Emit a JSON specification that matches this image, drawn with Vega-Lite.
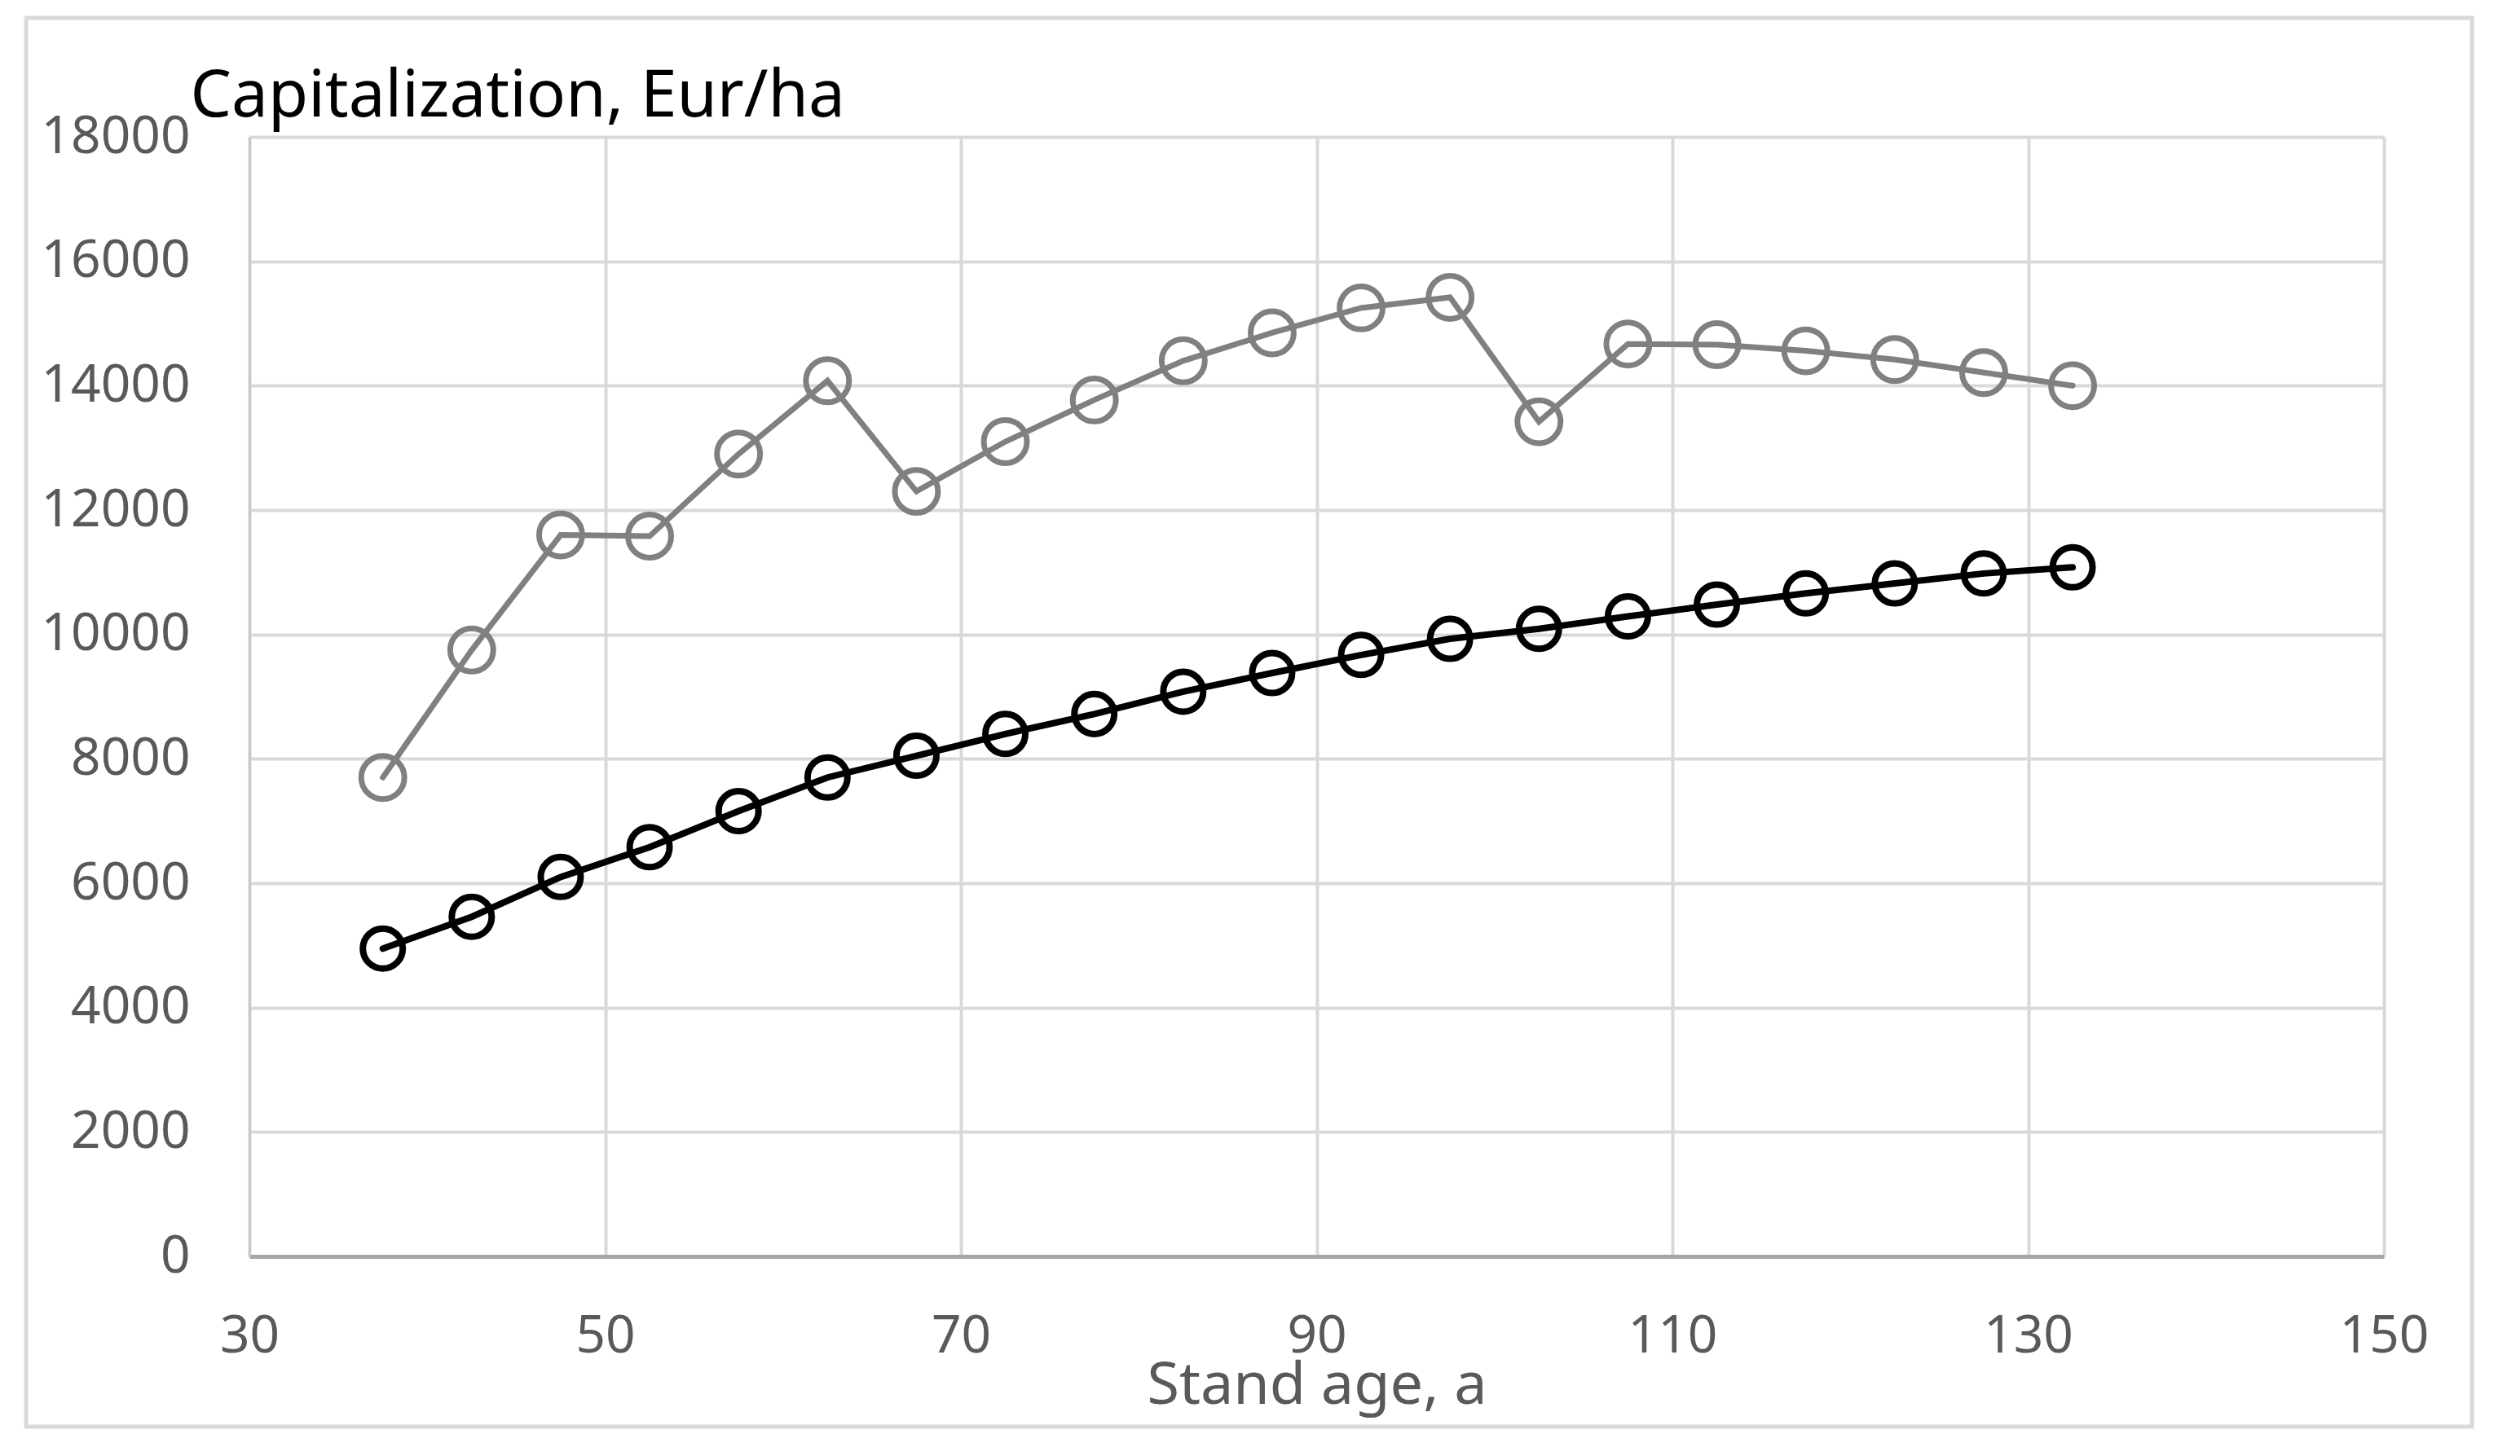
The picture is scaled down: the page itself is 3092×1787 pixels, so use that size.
{
  "$schema": "https://vega.github.io/schema/vega-lite/v6.json",
  "width": 2619,
  "height": 1374,
  "autosize": {"type": "none"},
  "padding": {"left": 306, "top": 168, "right": 167, "bottom": 245},
  "background": "white",
  "config": {"view": {"stroke": null}, "font": "Noto Sans"},
  "datasets": {
    "series": [
      {"age": 37.5, "value": 7700, "series": "Series 1"},
      {"age": 42.5, "value": 9750, "series": "Series 1"},
      {"age": 47.5, "value": 11600, "series": "Series 1"},
      {"age": 52.5, "value": 11580, "series": "Series 1"},
      {"age": 57.5, "value": 12900, "series": "Series 1"},
      {"age": 62.5, "value": 14080, "series": "Series 1"},
      {"age": 67.5, "value": 12300, "series": "Series 1"},
      {"age": 72.5, "value": 13100, "series": "Series 1"},
      {"age": 77.5, "value": 13770, "series": "Series 1"},
      {"age": 82.5, "value": 14400, "series": "Series 1"},
      {"age": 87.5, "value": 14850, "series": "Series 1"},
      {"age": 92.5, "value": 15250, "series": "Series 1"},
      {"age": 97.5, "value": 15420, "series": "Series 1"},
      {"age": 102.5, "value": 13420, "series": "Series 1"},
      {"age": 107.5, "value": 14670, "series": "Series 1"},
      {"age": 112.5, "value": 14660, "series": "Series 1"},
      {"age": 117.5, "value": 14560, "series": "Series 1"},
      {"age": 122.5, "value": 14420, "series": "Series 1"},
      {"age": 127.5, "value": 14210, "series": "Series 1"},
      {"age": 132.5, "value": 14000, "series": "Series 1"},
      {"age": 37.5, "value": 4950, "series": "Series 2"},
      {"age": 42.5, "value": 5460, "series": "Series 2"},
      {"age": 47.5, "value": 6100, "series": "Series 2"},
      {"age": 52.5, "value": 6580, "series": "Series 2"},
      {"age": 57.5, "value": 7160, "series": "Series 2"},
      {"age": 62.5, "value": 7700, "series": "Series 2"},
      {"age": 67.5, "value": 8050, "series": "Series 2"},
      {"age": 72.5, "value": 8400, "series": "Series 2"},
      {"age": 77.5, "value": 8720, "series": "Series 2"},
      {"age": 82.5, "value": 9080, "series": "Series 2"},
      {"age": 87.5, "value": 9380, "series": "Series 2"},
      {"age": 92.5, "value": 9670, "series": "Series 2"},
      {"age": 97.5, "value": 9930, "series": "Series 2"},
      {"age": 102.5, "value": 10090, "series": "Series 2"},
      {"age": 107.5, "value": 10290, "series": "Series 2"},
      {"age": 112.5, "value": 10480, "series": "Series 2"},
      {"age": 117.5, "value": 10660, "series": "Series 2"},
      {"age": 122.5, "value": 10820, "series": "Series 2"},
      {"age": 127.5, "value": 10980, "series": "Series 2"},
      {"age": 132.5, "value": 11080, "series": "Series 2"}
    ]
  },
  "layer": [
    {
      "data": {"values": [{}]},
      "mark": {"type": "rect", "fill": null, "stroke": "#d9d9d9", "strokeWidth": 5, "clip": false},
      "encoding": {
        "x": {"datum": 17.45, "type": "quantitative"},
        "x2": {"datum": 154.95},
        "y": {"datum": -2738, "type": "quantitative"},
        "y2": {"datum": 19913}
      }
    },
    {
      "data": {"name": "series"},
      "mark": {"type": "line", "strokeJoin": "miter", "strokeCap": "round"},
      "encoding": {
        "x": {
          "field": "age",
          "type": "quantitative",
          "scale": {"domain": [30, 150], "nice": false, "zero": false},
          "axis": {
            "values": [30, 50, 70, 90, 110, 130, 150],
            "grid": true,
            "gridColor": "#d9d9d9",
            "gridWidth": 4,
            "ticks": false,
            "tickSize": 0,
            "domain": true,
            "domainColor": "#a6a6a6",
            "domainWidth": 5,
            "labelFontSize": 64,
            "labelColor": "#595959",
            "labelPadding": 66,
            "labelFlush": false,
            "labelOverlap": false,
            "labelLimit": 0,
            "labelFont": "Noto Sans",
            "title": "Stand age, a",
            "titleFont": "Noto Sans",
            "titleFontSize": 72,
            "titleFontWeight": "normal",
            "titleColor": "#595959",
            "titleBaseline": "alphabetic",
            "titleY": 180
          }
        },
        "y": {
          "field": "value",
          "type": "quantitative",
          "scale": {"domain": [0, 18000], "nice": false},
          "axis": {
            "values": [0, 2000, 4000, 6000, 8000, 10000, 12000, 14000, 16000, 18000],
            "format": "d",
            "grid": true,
            "gridColor": "#d9d9d9",
            "gridWidth": 4,
            "ticks": false,
            "tickSize": 0,
            "domain": true,
            "domainColor": "#c8c8c8",
            "domainWidth": 3,
            "labelFontSize": 64,
            "labelColor": "#595959",
            "labelPadding": 73,
            "labelLimit": 0,
            "labelOverlap": false,
            "labelFont": "Noto Sans",
            "title": "Capitalization, Eur/ha",
            "titleFont": "Noto Sans",
            "titleFontSize": 80,
            "titleFontWeight": "normal",
            "titleColor": "#000000",
            "titleAngle": 0,
            "titleAlign": "left",
            "titleBaseline": "alphabetic",
            "titleLimit": 0,
            "titleX": -73,
            "titleY": -26
          }
        },
        "color": {
          "field": "series",
          "type": "nominal",
          "scale": {"domain": ["Series 1", "Series 2"], "range": ["#808080", "#000000"]},
          "legend": null
        },
        "strokeWidth": {
          "field": "series",
          "type": "nominal",
          "scale": {"domain": ["Series 1", "Series 2"], "range": [7, 8]},
          "legend": null
        }
      }
    },
    {
      "data": {"name": "series"},
      "mark": {"type": "point", "shape": "circle", "filled": false, "opacity": 1},
      "encoding": {
        "x": {"field": "age", "type": "quantitative"},
        "y": {"field": "value", "type": "quantitative"},
        "stroke": {
          "field": "series",
          "type": "nominal",
          "scale": {"domain": ["Series 1", "Series 2"], "range": ["#808080", "#000000"]},
          "legend": null
        },
        "size": {
          "field": "series",
          "type": "nominal",
          "scale": {"domain": ["Series 1", "Series 2"], "range": [2800, 2400]},
          "legend": null
        },
        "strokeWidth": {
          "field": "series",
          "type": "nominal",
          "scale": {"domain": ["Series 1", "Series 2"], "range": [4.5, 9]},
          "legend": null
        }
      }
    }
  ]
}
